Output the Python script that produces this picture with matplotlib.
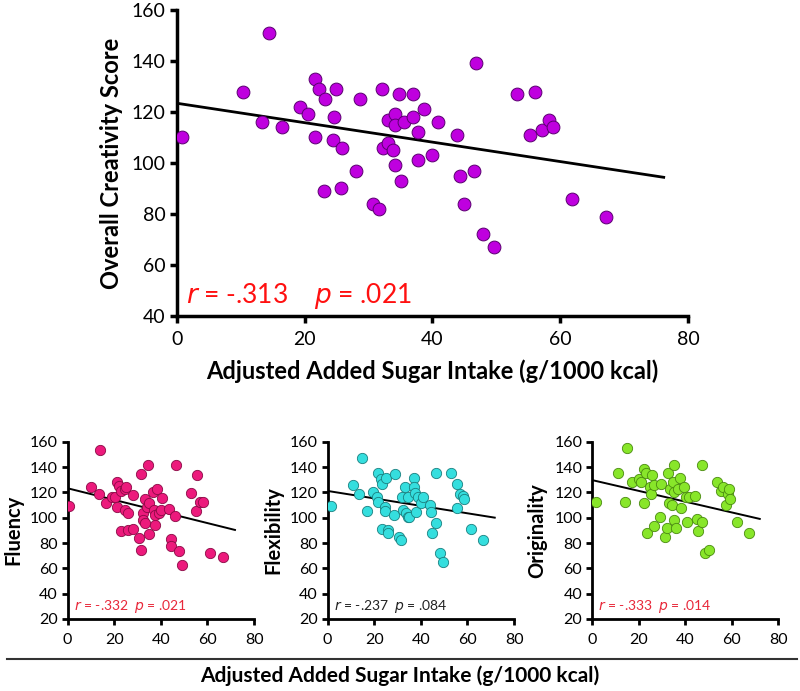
import numpy as np
import matplotlib
matplotlib.use("Agg")
import matplotlib.pyplot as plt

plt.rcParams['font.family'] = ['Lato', 'DejaVu Sans']

# ---- data ----
# overall creativity vs sugar intake
main_x = [0.8, 10.3, 13.4, 14.4, 16.5, 19.3, 20.5, 21.6, 22.3, 23.2, 21.6, 23.1, 24.6, 24.5,
          24.9, 25.9, 25.7, 28.1, 28.6, 30.7, 31.7, 32.1, 32.3, 33.0, 33.1, 33.8, 34.1, 34.2,
          34.2, 34.7, 35.1, 35.5, 37.0, 37.0, 37.8, 37.8, 38.7, 40.0, 40.9, 43.9, 44.3, 44.9,
          46.5, 46.8, 47.9, 49.6, 53.2, 56.0, 55.2, 57.1, 58.2, 58.9, 61.8, 67.1]
main_y = [110, 128, 116, 151, 114, 122, 119, 133, 129, 125, 110, 89, 118, 109,
          129, 106, 90, 97, 125, 84, 82, 129, 106, 108, 117, 105, 119, 115,
          99, 127, 93, 116, 127, 118, 112, 101, 121, 103, 116, 111, 95, 84,
          97, 139, 72, 67, 127, 128, 111, 113, 117, 114, 86, 79]
main_fit = (123.4, -0.381)   # intercept, slope
main_stats = ("-.313", ".021")

flu_x = [0.7, 10.0, 13.3, 13.9, 16.3, 19.2, 20.5, 21.3, 21.3, 22.2, 23.0, 22.7, 24.7, 24.9,
         24.5, 25.8, 25.8, 28.2, 28.2, 30.5, 31.6, 31.5, 32.2, 32.5, 33.3, 33.3, 33.9, 34.5,
         34.9, 35.1, 36.8, 37.1, 37.6, 38.2, 37.6, 39.3, 40.5, 39.9, 43.6, 44.2, 44.5, 45.9,
         46.4, 47.6, 49.0, 52.8, 54.9, 55.5, 56.8, 58.2, 61.2, 66.5]
flu_y = [109, 124.5, 118.7, 153.4, 111.3, 116, 116.6, 128.2, 108.2, 125, 121.3, 89.5, 122.4, 124.5,
         106, 103.4, 90.3, 118, 91.3, 84, 134.7, 74.5, 103.4, 98.2, 115, 95.5, 108.7, 141.6,
         87, 111.3, 120.3, 106, 94.2, 122.4, 102.1, 103.4, 115.3, 106, 107.1, 82.9, 77.6, 101.3,
         141.6, 74, 62.4, 119.7, 105.3, 133.4, 112.4, 112.4, 72.4, 69.2]
flu_fit = (123.2, -0.458)
flu_stats = ("-.332", ".021")

flex_x = [1.4, 10.8, 13.6, 14.8, 16.7, 19.6, 21.0, 21.6, 21.8, 22.7, 23.4, 23.1, 24.9, 24.7,
          24.7, 26.1, 25.9, 28.7, 28.4, 30.8, 31.6, 32.0, 32.3, 33.2, 33.6, 34.6, 34.3, 34.9,
          37.2, 37.2, 37.4, 38.0, 38.9, 40.0, 41.1, 43.7, 44.3, 44.7, 46.4, 46.7, 48.0, 49.6,
          53.0, 55.3, 55.7, 57.0, 58.2, 58.6, 61.6, 66.7]
flex_y = [109.2, 125.5, 118.7, 147.4, 105.5, 120.3, 116, 112.4, 135.5, 130.3, 126.6, 91.3, 131.3, 108.7,
          105.5, 90.3, 88.2, 134.2, 102.4, 84.5, 82.4, 116, 106, 124.5, 104, 116, 100.8, 100.3,
          131, 124.5, 119.7, 104.5, 116, 111.8, 116, 110.3, 104.5, 88.2, 95.5, 135.5, 72.4, 65,
          135.5, 107.6, 126.6, 118.7, 117.1, 115, 91.3, 82.4]
flex_fit = (121.1, -0.294)
flex_stats = ("-.237", ".084")

orig_x = [1.7, 11.1, 14.2, 15.1, 17.1, 20.2, 21.1, 22.2, 22.5, 23.1, 23.6, 25.1, 25.3, 25.9,
          26.5, 26.8, 29.0, 29.6, 31.3, 32.2, 32.5, 33.0, 33.6, 34.4, 34.7, 35.0, 35.0, 35.3,
          35.9, 37.0, 37.9, 38.4, 39.3, 40.4, 40.9, 41.6, 44.4, 45.0, 45.3, 47.0, 47.3, 48.7,
          50.1, 53.5, 55.4, 56.4, 57.5, 58.4, 58.9, 59.3, 62.1, 67.2]
orig_y = [112.4, 135, 112.4, 155.3, 128.2, 130.3, 128.2, 138.2, 111.3, 135.5, 88.2, 124.5, 118.7, 133.4,
          93.4, 125.5, 100.3, 126.6, 84.5, 91.6, 135.5, 111.3, 122.4, 109.7, 128.2, 98.2, 120.3, 141.6,
          91.6, 122.4, 131, 107.6, 124.5, 116, 96.6, 116, 117.1, 99.2, 89.2, 96.6, 141.6, 72.4,
          74.5, 128.2, 120.8, 124.5, 110.3, 118.7, 122.4, 114.5, 96.6, 87.7]
orig_fit = (129.7, -0.426)
orig_stats = ("-.333", ".014")

x_label = "Adjusted Added Sugar Intake (g/1000 kcal)"

fig = plt.figure(figsize=(8, 6.91), dpi=100)


def style_axes(ax, lw, fs, tick_len):
    for s in ['top', 'right']:
        ax.spines[s].set_visible(False)
    for s in ['left', 'bottom']:
        ax.spines[s].set_linewidth(lw)
    ax.tick_params(axis='both', width=lw, length=tick_len, labelsize=fs, color='black')
    ax.tick_params(axis='x', direction='out', pad=6)
    ax.tick_params(axis='y', direction='out', pad=3)


# ---- main panel ----
ax = fig.add_axes([0.221, 0.5427, 0.639, 0.443])
ax.scatter(main_x, main_y, s=85, c='#bf00df', edgecolors='#5a0070', linewidths=0.7, zorder=3)
fx = np.array([0, 76.2])
ax.plot(fx, main_fit[0] + main_fit[1] * fx, color='black', lw=2, zorder=2)
ax.set_xlim(0, 80)
ax.set_ylim(40, 160)
ax.set_xticks([0, 20, 40, 60, 80])
ax.set_yticks(range(40, 161, 20))
style_axes(ax, 2.5, 14, 5)
ax.set_xlabel(x_label, fontsize=17, fontweight='bold', labelpad=8)
ax.set_ylabel("Overall Creativity Score", fontsize=17, fontweight='bold', labelpad=6)
ax.text(1.5, 45, r"$r$ = %s" % main_stats[0], color='#ff1010', fontsize=19, va='baseline')
ax.text(21.5, 45, r"$p$ = %s" % main_stats[1], color='#ff1010', fontsize=19, va='baseline')

# ---- small panels ----
panels = [
    (0.0846, flu_x, flu_y, flu_fit, flu_stats, "Fluency", '#ec1a7c', '#8a0a45', '#e8283a', 71.8),
    (0.4096, flex_x, flex_y, flex_fit, flex_stats, "Flexibility", '#35dede', '#1a8080', '#222222', 71.7),
    (0.74, orig_x, orig_y, orig_fit, orig_stats, "Originality", '#88e62a', '#4a8a10', '#e8283a', 72.0),
]
for left, xs, ys, fit, stats, name, fc, ec, tc, xend in panels:
    a = fig.add_axes([left, 0.1042, 0.233, 0.2566])
    a.scatter(xs, ys, s=55, c=fc, edgecolors=ec, linewidths=0.6, zorder=3)
    lx = np.array([0, xend])
    a.plot(lx, fit[0] + fit[1] * lx, color='black', lw=1.4, zorder=2)
    a.set_xlim(0, 80)
    a.set_ylim(20, 160)
    a.set_xticks([0, 20, 40, 60, 80])
    a.set_yticks(range(20, 161, 20))
    style_axes(a, 2, 11.5, 4)
    a.set_ylabel(name, fontsize=14.5, fontweight='bold', labelpad=5)
    a.text(2.5, 27, r"$r$ = %s  $p$ = %s" % stats, color=tc, fontsize=10, va='baseline')

# separator line and shared label
fig.add_artist(plt.Line2D([0.009, 0.996], [1 - 659 / 691, 1 - 659 / 691],
                          transform=fig.transFigure, color='#333333', lw=1.5))
fig.text(0.5, 1 - 676 / 691, x_label, ha='center', va='center', fontsize=15, fontweight='bold')

fig.savefig("out.png", dpi=100)
